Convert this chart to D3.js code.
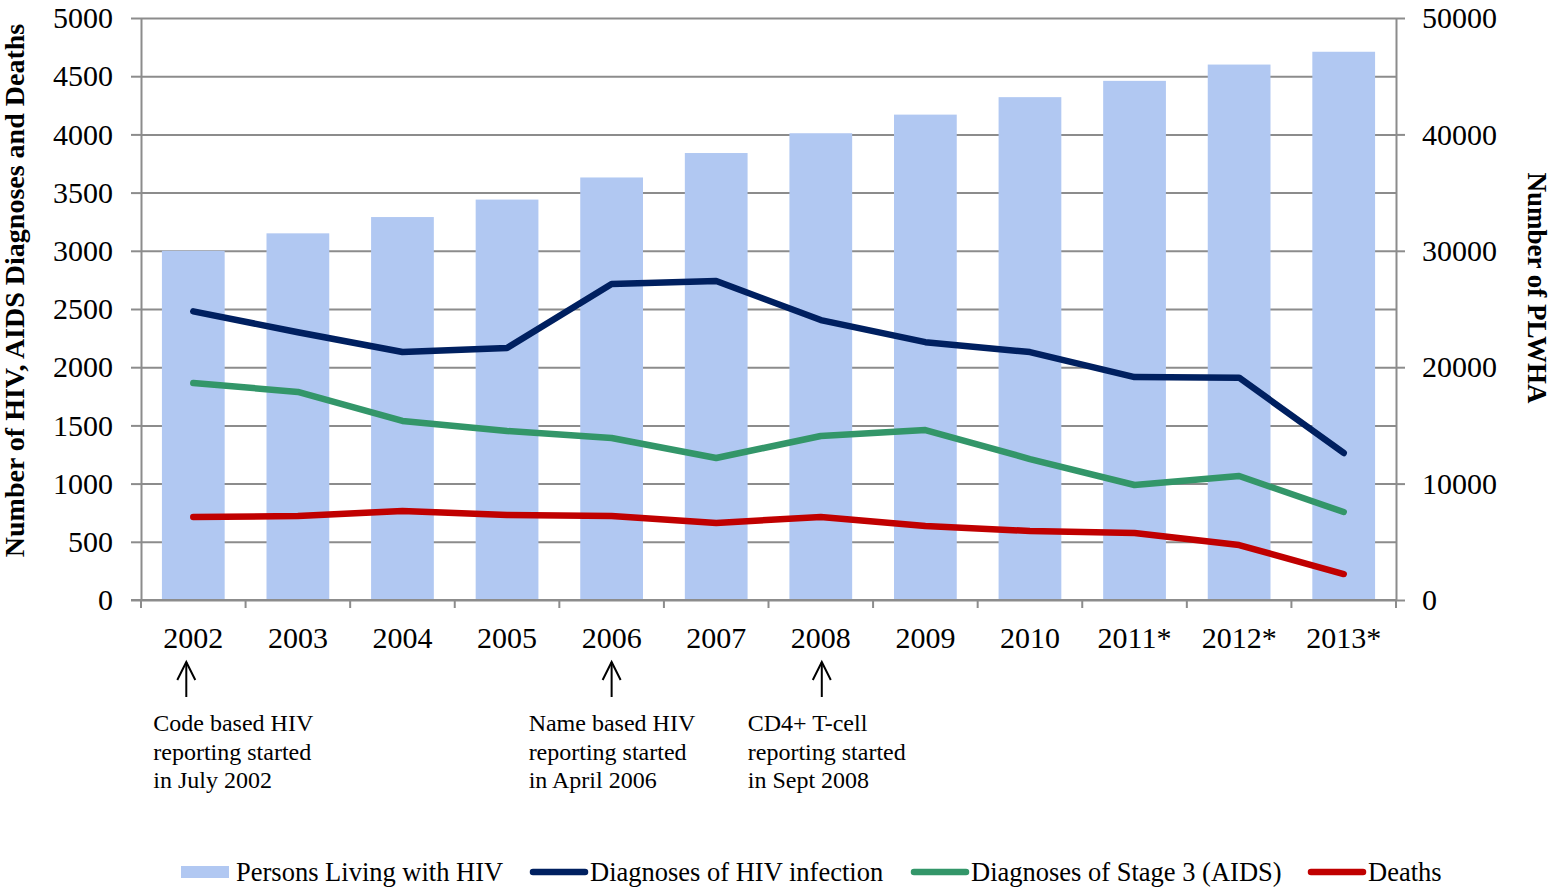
<!DOCTYPE html>
<html>
<head>
<meta charset="utf-8">
<script src="https://cdn.jsdelivr.net/npm/d3@7"></script>
<style>
  html, body { margin: 0; padding: 0; background: #fff; }
  svg { display: block; font-family: "Liberation Serif", "Times New Roman", serif; }
</style>
</head>
<body>
<svg id="chart" width="1551" height="888"></svg>
<script>
// ---- data ----
const years = ["2002","2003","2004","2005","2006","2007","2008","2009","2010","2011*","2012*","2013*"];
const plwha = [30000, 31500, 32900, 34400, 36300, 38400, 40100, 41700, 43200, 44600, 46000, 47100];
const hivDiagnoses = [2480, 2300, 2130, 2165, 2715, 2740, 2405, 2215, 2130, 1915, 1910, 1263];
const aidsDiagnoses = [1865, 1787, 1538, 1452, 1392, 1220, 1409, 1460, 1211, 988, 1065, 756];
const deaths = [713, 722, 765, 730, 722, 662, 713, 636, 593, 576, 472, 223];
const leftTicks = [0,500,1000,1500,2000,2500,3000,3500,4000,4500,5000];
const rightTicks = [0,10000,20000,30000,40000,50000];
const seriesNames = ["Persons Living with HIV","Diagnoses of HIV infection","Diagnoses of Stage 3 (AIDS)","Deaths"];
const annotations = [
  { year: "2002", lines: ["Code based HIV","reporting started","in July 2002"] },
  { year: "2006", lines: ["Name based HIV","reporting started","in April 2006"] },
  { year: "2008", lines: ["CD4+ T-cell","reporting started","in Sept 2008"] }
];
const leftTitle = "Number of HIV, AIDS Diagnoses and Deaths";
const rightTitle = "Number of PLWHA";

// ---- layout ----
const L = 141, R = 1396, T = 18, B = 600;
const colors = { bar: "#b1c8f2", hiv: "#002060", aids: "#339669", deaths: "#c00000", grid: "#8c8c8c", axis: "#8c8c8c" };
const svg = d3.select("#chart");
const fmt = d3.format("d");

const x = d3.scaleBand().domain(years).range([L, R]).paddingInner(0.4).paddingOuter(0.2);
const yL = d3.scaleLinear().domain([0, 5000]).range([B, T]);
const yR = d3.scaleLinear().domain([0, 50000]).range([B, T]);
const cx = d => x(d) + x.bandwidth() / 2;

// gridlines (behind bars)
const grid = svg.append("g").attr("transform", `translate(${L},0)`)
  .call(d3.axisLeft(yL).tickValues(leftTicks).tickSize(-(R - L)).tickFormat(""));
grid.select(".domain").remove();
grid.selectAll("line").attr("stroke", colors.grid).attr("stroke-width", 2);

// bars
svg.append("g").selectAll("rect").data(years).join("rect")
  .attr("x", d => x(d))
  .attr("width", x.bandwidth())
  .attr("y", (d, i) => yR(plwha[i]))
  .attr("height", (d, i) => B - yR(plwha[i]))
  .attr("fill", colors.bar);

// left axis
const axL = svg.append("g").attr("transform", `translate(${L},0)`)
  .call(d3.axisLeft(yL).tickValues(leftTicks).tickFormat(fmt).tickSize(10).tickPadding(18).tickSizeOuter(0));
axL.selectAll("line").attr("stroke", colors.axis).attr("stroke-width", 2);
axL.select(".domain").attr("stroke", colors.axis).attr("stroke-width", 2);
axL.selectAll("text").attr("font-size", 30).attr("font-family", "Liberation Serif").attr("fill", "#000");

// right axis
const axR = svg.append("g").attr("transform", `translate(${R},0)`)
  .call(d3.axisRight(yR).tickValues(rightTicks).tickFormat(fmt).tickSize(9).tickPadding(17).tickSizeOuter(0));
axR.selectAll("line").attr("stroke", colors.axis).attr("stroke-width", 2);
axR.select(".domain").attr("stroke", colors.axis).attr("stroke-width", 2);
axR.selectAll("text").attr("font-size", 30).attr("font-family", "Liberation Serif").attr("fill", "#000");

// bottom axis
const axB = svg.append("g").attr("transform", `translate(0,${B})`)
  .call(d3.axisBottom(x).tickSize(0).tickPadding(0).tickSizeOuter(0));
axB.select(".domain").attr("stroke", colors.axis).attr("stroke-width", 2).attr("d", `M${L - 10},0H${R}`);
axB.selectAll("text").attr("font-size", 30).attr("font-family", "Liberation Serif").attr("fill", "#000")
  .attr("dy", null).attr("y", 48);
const gap = x.step() - x.bandwidth();
const boundaries = years.map(d => x(d) - gap / 2).concat([R]);
svg.append("g").selectAll("line").data(boundaries).join("line")
  .attr("x1", d => d).attr("x2", d => d).attr("y1", B).attr("y2", B + 8)
  .attr("stroke", colors.axis).attr("stroke-width", 2);

// lines
const lineGen = d3.line().x((d, i) => cx(years[i])).y(d => yL(d));
[[hivDiagnoses, colors.hiv],[aidsDiagnoses, colors.aids],[deaths, colors.deaths]].forEach(([vals, c]) => {
  svg.append("path").datum(vals).attr("d", lineGen)
    .attr("fill", "none").attr("stroke", c).attr("stroke-width", 6.5)
    .attr("stroke-linecap", "round").attr("stroke-linejoin", "round");
});

// axis titles
svg.append("text").attr("transform", `translate(24,${(T + 563) / 2}) rotate(-90)`)
  .attr("text-anchor", "middle").attr("font-size", 28).attr("font-weight", "bold").text(leftTitle);
svg.append("text").attr("transform", `translate(1528,288) rotate(90)`)
  .attr("text-anchor", "middle").attr("font-size", 27).attr("font-weight", "bold").text(rightTitle);

// annotations
const annOffsets = { "2002": { arrow: -7, text: -40 }, "2006": { arrow: 0, text: -83 }, "2008": { arrow: 1, text: -73 } };
annotations.forEach(a => {
  const ax = cx(a.year) + annOffsets[a.year].arrow;
  const g = svg.append("g");
  g.append("line").attr("x1", ax).attr("x2", ax).attr("y1", 662).attr("y2", 697)
    .attr("stroke", "#000").attr("stroke-width", 2);
  g.append("path").attr("d", `M${ax - 9},${680}L${ax},${662}L${ax + 9},${680}`)
    .attr("fill", "none").attr("stroke", "#000").attr("stroke-width", 2);
  const t = g.append("text").attr("font-size", 24).attr("fill", "#000");
  a.lines.forEach((ln, i) => {
    t.append("tspan").attr("x", cx(a.year) + annOffsets[a.year].text).attr("y", 731 + i * 28.5).text(ln);
  });
});

// legend
const legY = 872;
const legendItems = [
  { name: seriesNames[0], type: "bar", color: colors.bar, x: 181 },
  { name: seriesNames[1], type: "line", color: colors.hiv, x: 533 },
  { name: seriesNames[2], type: "line", color: colors.aids, x: 914 },
  { name: seriesNames[3], type: "line", color: colors.deaths, x: 1311 }
];
legendItems.forEach(it => {
  const g = svg.append("g");
  if (it.type === "bar") {
    g.append("rect").attr("x", it.x).attr("y", legY - 6).attr("width", 48).attr("height", 12).attr("fill", it.color);
    g.append("text").attr("x", it.x + 55).attr("y", legY + 9).attr("font-size", 26.5).text(it.name);
  } else {
    g.append("line").attr("x1", it.x).attr("x2", it.x + 52).attr("y1", legY).attr("y2", legY)
      .attr("stroke", it.color).attr("stroke-width", 6.5).attr("stroke-linecap", "round");
    g.append("text").attr("x", it.x + 57).attr("y", legY + 9).attr("font-size", 26.5).text(it.name);
  }
});
</script>
</body>
</html>
